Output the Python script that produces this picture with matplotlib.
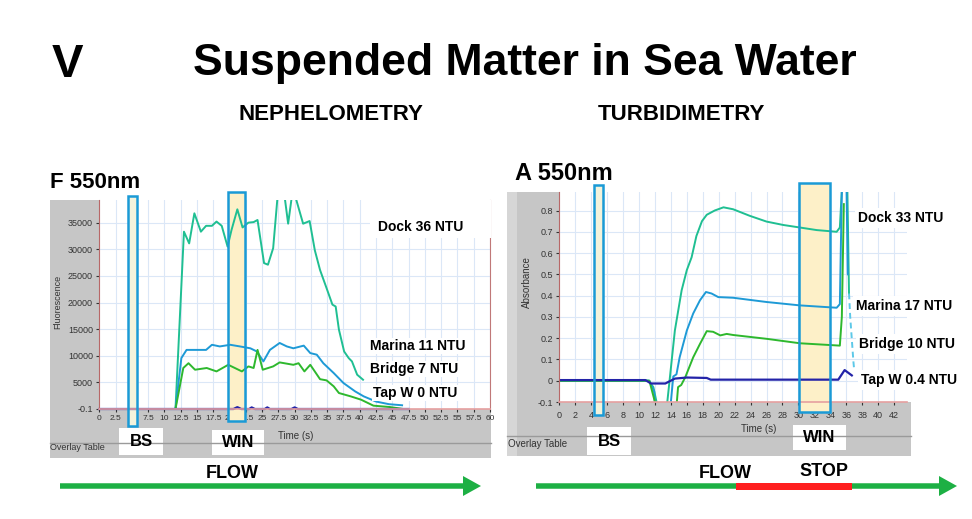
import matplotlib.pyplot as plt
import matplotlib.transforms as mtransforms
from matplotlib.patches import Rectangle

W, H = 972, 519

# ---------------- NEPHELOMETRY  (F 550nm, fluorescence) ----------------
neph_dock_t = [0, 11.7, 13.0, 13.8, 14.6, 15.6, 16.4, 17.3, 18.0, 18.8, 19.7, 20.3, 21.2, 22.0,
               22.9, 23.7, 24.3, 25.3, 25.9, 26.7, 27.8, 28.5, 29.0, 29.8, 30.2, 31.3, 32.3,
               33.1, 33.9, 34.9, 35.8, 36.3, 36.8, 37.6, 38.3, 38.8, 39.6, 40.5]
neph_dock = [0, 0, 33300, 31100, 36750, 33300, 34400, 34400, 35200, 34400, 30500, 33600, 37500, 34100,
             35000, 35100, 35500, 27400, 27100, 30200, 46000, 39500, 34800, 42000, 39500, 34800, 35300,
             29800, 26100, 22700, 19600, 19250, 14900, 10800, 9560, 8940, 6440, 5500]

neph_marina_t = [0, 11.7, 12.6, 13.4, 15.0, 16.4, 17.3, 18.5, 20.1, 21.6, 23.2, 24.2, 25.2, 26.2,
                 27.7, 28.8, 29.8, 31.4, 32.4, 33.4, 34.4, 36.0, 37.5, 39.3, 40.6, 42.5, 44.5, 46.5]
neph_marina = [0, 0, 9560, 11100, 11100, 11100, 12060, 11750, 12060, 11750, 11400, 10800, 8940, 11100,
               12400, 11750, 11400, 11900, 10500, 10200, 8600, 6750, 4875, 3300, 2375, 1400, 900, 700]

neph_bridge_t = [0, 11.7, 12.9, 13.7, 14.7, 16.5, 18.0, 19.8, 21.9, 22.9, 23.7, 24.3, 25.1, 26.7,
                 27.7, 29.8, 30.6, 31.5, 32.4, 33.9, 34.9, 36.0, 36.8, 38.6, 40.2, 42.1, 44.6, 46.7]
neph_bridge = [0, 0, 7700, 8600, 7375, 7700, 7060, 8300, 7060, 8000, 7700, 11100, 7375, 8000,
               8750, 8300, 8600, 7060, 8300, 5600, 5375, 4250, 3000, 2375, 1750, 625, 375, 0]

neph_tap_t = [0, 20.6, 21.2, 21.8, 23.0, 23.4, 23.9, 25.4, 25.8, 26.2, 29.5, 30.0, 30.5, 47.5]
neph_tap = [0, 0, 350, 0, 0, 300, 0, 0, 300, 0, 0, 300, 0, 0]

neph_xticks = [0, 2.5, 5, 7.5, 10, 12.5, 15, 17.5, 20, 22.5, 25, 27.5, 30, 32.5, 35, 37.5,
               40, 42.5, 45, 47.5, 50, 52.5, 55, 57.5, 60]
neph_yticks = [-0.1, 5000, 10000, 15000, 20000, 25000, 30000, 35000]
neph_labels = ['Dock 36 NTU', 'Marina 11 NTU', 'Bridge 7 NTU', 'Tap W 0 NTU']
neph_bs = [4.4, 5.8]
neph_win = [19.7, 22.3]

# ---------------- TURBIDIMETRY  (A 550nm, absorbance) ----------------
turb_dock_t = [0, 11.2, 11.8, 12.2, 12.5, 13.3, 13.55, 14.5, 15.35, 16.0, 16.6, 17.2, 17.9, 18.5,
               19.5, 20.6, 21.8, 23.9, 26.0, 28.1, 30.2, 32.3, 34.8, 35.2, 35.6, 36.1, 36.35]
turb_dock = [0, 0, -0.03, -0.1, -0.3, -0.3, -0.1, 0.236, 0.425, 0.52, 0.58, 0.68, 0.75, 0.78,
             0.80, 0.815, 0.806, 0.775, 0.748, 0.732, 0.72, 0.708, 0.70, 0.72, 1.0, 1.0, 0.41]

turb_marina_t = [0, 11.3, 11.9, 12.3, 13.7, 14.0, 14.3, 14.7, 15.1, 16.0, 16.8, 17.65, 18.4, 19.1,
                 19.95, 21.8, 26.0, 30.2, 34.8, 35.2, 35.5, 36.0, 36.2]
turb_marina = [0, 0, -0.05, -0.3, -0.3, -0.1, 0.02, 0.03, 0.11, 0.236, 0.316, 0.378, 0.417, 0.41,
               0.393, 0.39, 0.37, 0.354, 0.343, 0.36, 1.0, 1.0, 0.5]

turb_bridge_t = [0, 11.3, 12.0, 12.3, 14.5, 14.75, 14.9, 15.3, 15.8, 16.8, 17.65, 18.5, 19.3, 20.2,
                 21.0, 21.8, 26.0, 30.2, 35.2, 35.45, 35.7]
turb_bridge = [0, 0, -0.1, -0.3, -0.3, -0.1, -0.03, -0.02, 0.016, 0.11, 0.173, 0.233, 0.23, 0.213,
               0.22, 0.215, 0.197, 0.176, 0.165, 0.3, 0.83]

turb_tail_t = [36.35, 36.5, 36.9, 37.0]
turb_tail = [0.41, 0.30, 0.09, 0.05]

turb_tap_t = [0, 10.8, 11.5, 13.3, 14.5, 16.0, 18.5, 19.0, 35.0, 35.8, 36.7]
turb_tap = [0.003, 0.003, -0.013, -0.013, 0.01, 0.015, 0.013, 0.005, 0.005, 0.05, 0.025]

turb_xticks = [0, 2, 4, 6, 8, 10, 12, 14, 16, 18, 20, 22, 24, 26, 28, 30, 32, 34, 36, 38, 40, 42]
turb_yticks = [-0.1, 0, 0.1, 0.2, 0.3, 0.4, 0.5, 0.6, 0.7, 0.8]
turb_labels = ['Dock 33 NTU', 'Marina 17 NTU', 'Bridge 10 NTU', 'Tap W 0.4 NTU']
turb_bs = [4.3, 5.5]
turb_win = [30.1, 34.0]

DOCK, MARINA, BRIDGE, TAP = '#1fbf92', '#1e9ad6', '#2eb82e', '#2323a8'
EDGE = '#1a9ad6'
GRAY = '#c6c6c6'

plt.rcParams['font.family'] = ['Liberation Sans', 'DejaVu Sans']

fig = plt.figure(figsize=(W / 100, H / 100), dpi=100)
fig.patch.set_facecolor('white')

# background layer in pixel coordinates (y downwards)
bg = fig.add_axes([0, 0, 1, 1], zorder=-1)
bg.set_xlim(0, W)
bg.set_ylim(H, 0)
bg.axis('off')


def px_axes(x0, y0, x1, y1):
    return fig.add_axes([x0 / W, 1 - y1 / H, (x1 - x0) / W, (y1 - y0) / H], zorder=1)


# gray instrument-software panels
bg.add_patch(Rectangle((50, 200), 441, 258, fc=GRAY, ec='none'))
bg.add_patch(Rectangle((507, 192), 400, 264, fc=GRAY, ec='none'))
bg.add_patch(Rectangle((907, 402), 4, 54, fc=GRAY, ec='none'))
bg.add_patch(Rectangle((507, 192), 10, 264, fc='#d6d6d6', ec='none'))
bg.plot([50, 491], [443, 443], color='#9a9a9a', lw=1)
bg.plot([507, 911], [436, 436], color='#9a9a9a', lw=1)

axL = px_axes(99.3, 200, 490, 409)
axR = px_axes(559.3, 192, 906.8, 402)


def style(ax, right_spine):
    ax.set_facecolor('white')
    ax.spines['top'].set_visible(False)
    ax.spines['right'].set_visible(right_spine)
    ax.spines['right'].set_color('#c07878')
    ax.spines['left'].set_color('#b86868')
    ax.spines['bottom'].set_color('#e6a0a0')
    ax.spines['bottom'].set_linewidth(1.2)
    ax.grid(True, color='#dbe7f7', lw=0.8)
    ax.set_axisbelow(True)
    ax.tick_params(direction='out', length=2.5, width=0.8, colors='#333333', labelsize=6.5, pad=2)


def window(ax, span, y0, y1, fill):
    tr = mtransforms.blended_transform_factory(ax.transData, ax.transAxes)
    ax.add_patch(Rectangle((span[0], y0), span[1] - span[0], y1 - y0, transform=tr,
                           clip_on=False, fc=fill, ec='none', zorder=1.5))
    ax.add_patch(Rectangle((span[0], y0), span[1] - span[0], y1 - y0, transform=tr,
                           clip_on=False, fill=False, ec=EDGE, lw=1.8, zorder=3))


# ---- left chart
style(axL, True)
axL.plot(neph_dock_t, neph_dock, color=DOCK, lw=1.4, zorder=2)
axL.plot(neph_marina_t, neph_marina, color=MARINA, lw=1.4, zorder=2)
axL.plot(neph_bridge_t, neph_bridge, color=BRIDGE, lw=1.4, zorder=2)
axL.plot(neph_tap_t, neph_tap, color=TAP, lw=1.6, zorder=2.2, clip_on=False)
axL.set_xlim(0, 60)
axL.set_ylim(-0.1, 39250)
axL.set_xticks(neph_xticks)
axL.set_xticklabels(['%g' % v for v in neph_xticks], fontsize=6)
axL.set_yticks(neph_yticks)
axL.set_yticklabels(['%g' % v for v in neph_yticks])
window(axL, neph_bs, -0.081, 1.02, '#f3f3dc')
window(axL, neph_win, -0.056, 1.04, '#fdf0c8')

# ---- right chart
style(axR, False)
axR.plot(turb_dock_t, turb_dock, color=DOCK, lw=1.4, zorder=2)
axR.plot(turb_marina_t, turb_marina, color=MARINA, lw=1.4, zorder=2)
axR.plot(turb_bridge_t, turb_bridge, color=BRIDGE, lw=1.4, zorder=2)
axR.plot(turb_tail_t, turb_tail, color='#5cc8e8', lw=1.4, ls=(0, (3, 2)), zorder=2, clip_on=False)
axR.plot(turb_tap_t, turb_tap, color=TAP, lw=1.6, zorder=2.2)
axR.set_xlim(0, 43.6)
axR.set_ylim(-0.1, 0.887)
axR.set_xticks(turb_xticks)
axR.set_xticklabels(['%g' % v for v in turb_xticks])
axR.set_yticks(turb_yticks)
axR.set_yticklabels(['%g' % v for v in turb_yticks])
axR.tick_params(axis='x', pad=4)
window(axR, turb_bs, -0.062, 1.033, '#f3f3dc')
window(axR, turb_win, -0.046, 1.044, '#fdf0c8')

# axis captions of the software screens
bg.text(58, 302, 'Fluorescence', rotation=90, fontsize=6.5, color='#333333', ha='center', va='center')
bg.text(296, 436, 'Time (s)', fontsize=7, color='#333333', ha='center', va='center')
bg.text(527, 282, 'Absorbance', rotation=90, fontsize=7, color='#333333', ha='center', va='center')
bg.text(759, 429, 'Time (s)', fontsize=7, color='#333333', ha='center', va='center')
bg.text(50, 448, 'Overlay Table', fontsize=6.5, color='#333333', ha='left', va='center')
bg.text(508, 444, 'Overlay Table', fontsize=7, color='#333333', ha='left', va='center')

# BS / WIN tags under the charts
for (x0, y0, x1, y1), s in [((119, 428, 163, 455), 'BS'), ((212, 430, 264, 455), 'WIN'),
                            ((587, 427, 631, 455), 'BS'), ((793, 425, 846, 450), 'WIN')]:
    bg.add_patch(Rectangle((x0, y0), x1 - x0, y1 - y0, fc='white', ec='none'))
    bg.text((x0 + x1) / 2, (y0 + y1) / 2, s, fontsize=12, fontweight='bold', ha='center', va='center')

# series labels (drawn above the charts)
fig.add_artist(Rectangle((370, 200), 121, 38, transform=bg.transData, fc='white', ec='none', zorder=2))
for (x, y), s in zip([(378, 227), (370, 346), (370, 369), (373, 393)], neph_labels):
    fig.text(x, y, s, transform=bg.transData, fontsize=10, fontweight='bold', ha='left', va='center',
             zorder=3, bbox=dict(fc='white', ec='none', pad=1))
for (x, y), s in zip([(858, 218), (856, 306), (859, 344), (861, 380)], turb_labels):
    fig.text(x, y, s, transform=bg.transData, fontsize=10, fontweight='bold', ha='left', va='center',
             zorder=3, bbox=dict(fc='white', ec='none', pad=2))

# headings
bg.text(67, 65, 'V', fontsize=34, fontweight='bold', ha='center', va='center')
bg.text(525, 64, 'Suspended Matter in Sea Water', fontsize=32, fontweight='bold', ha='center', va='center')
bg.text(331, 115, 'NEPHELOMETRY', fontsize=16, fontweight='bold', ha='center', va='center')
bg.text(681, 115, 'TURBIDIMETRY', fontsize=16, fontweight='bold', ha='center', va='center')
bg.text(50, 183, 'F 550nm', fontsize=16, fontweight='bold', ha='left', va='center')
bg.text(515, 173, 'A 550nm', fontsize=17, fontweight='bold', ha='left', va='center')

# flow arrows
bg.arrow(60, 486, 421, 0, width=5.5, head_width=20, head_length=18, length_includes_head=True,
         fc='#1db044', ec='none')
bg.arrow(536, 486, 421, 0, width=5.5, head_width=20, head_length=18, length_includes_head=True,
         fc='#1db044', ec='none')
bg.add_patch(Rectangle((736, 482.5), 116, 7, fc='#ff1f1f', ec='none', zorder=3))
bg.text(232, 474, 'FLOW', fontsize=13, fontweight='bold', ha='center', va='center')
bg.text(725, 473, 'FLOW', fontsize=13, fontweight='bold', ha='center', va='center')
bg.text(824, 471, 'STOP', fontsize=13, fontweight='bold', ha='center', va='center')

fig.savefig('out.png', dpi=100)
